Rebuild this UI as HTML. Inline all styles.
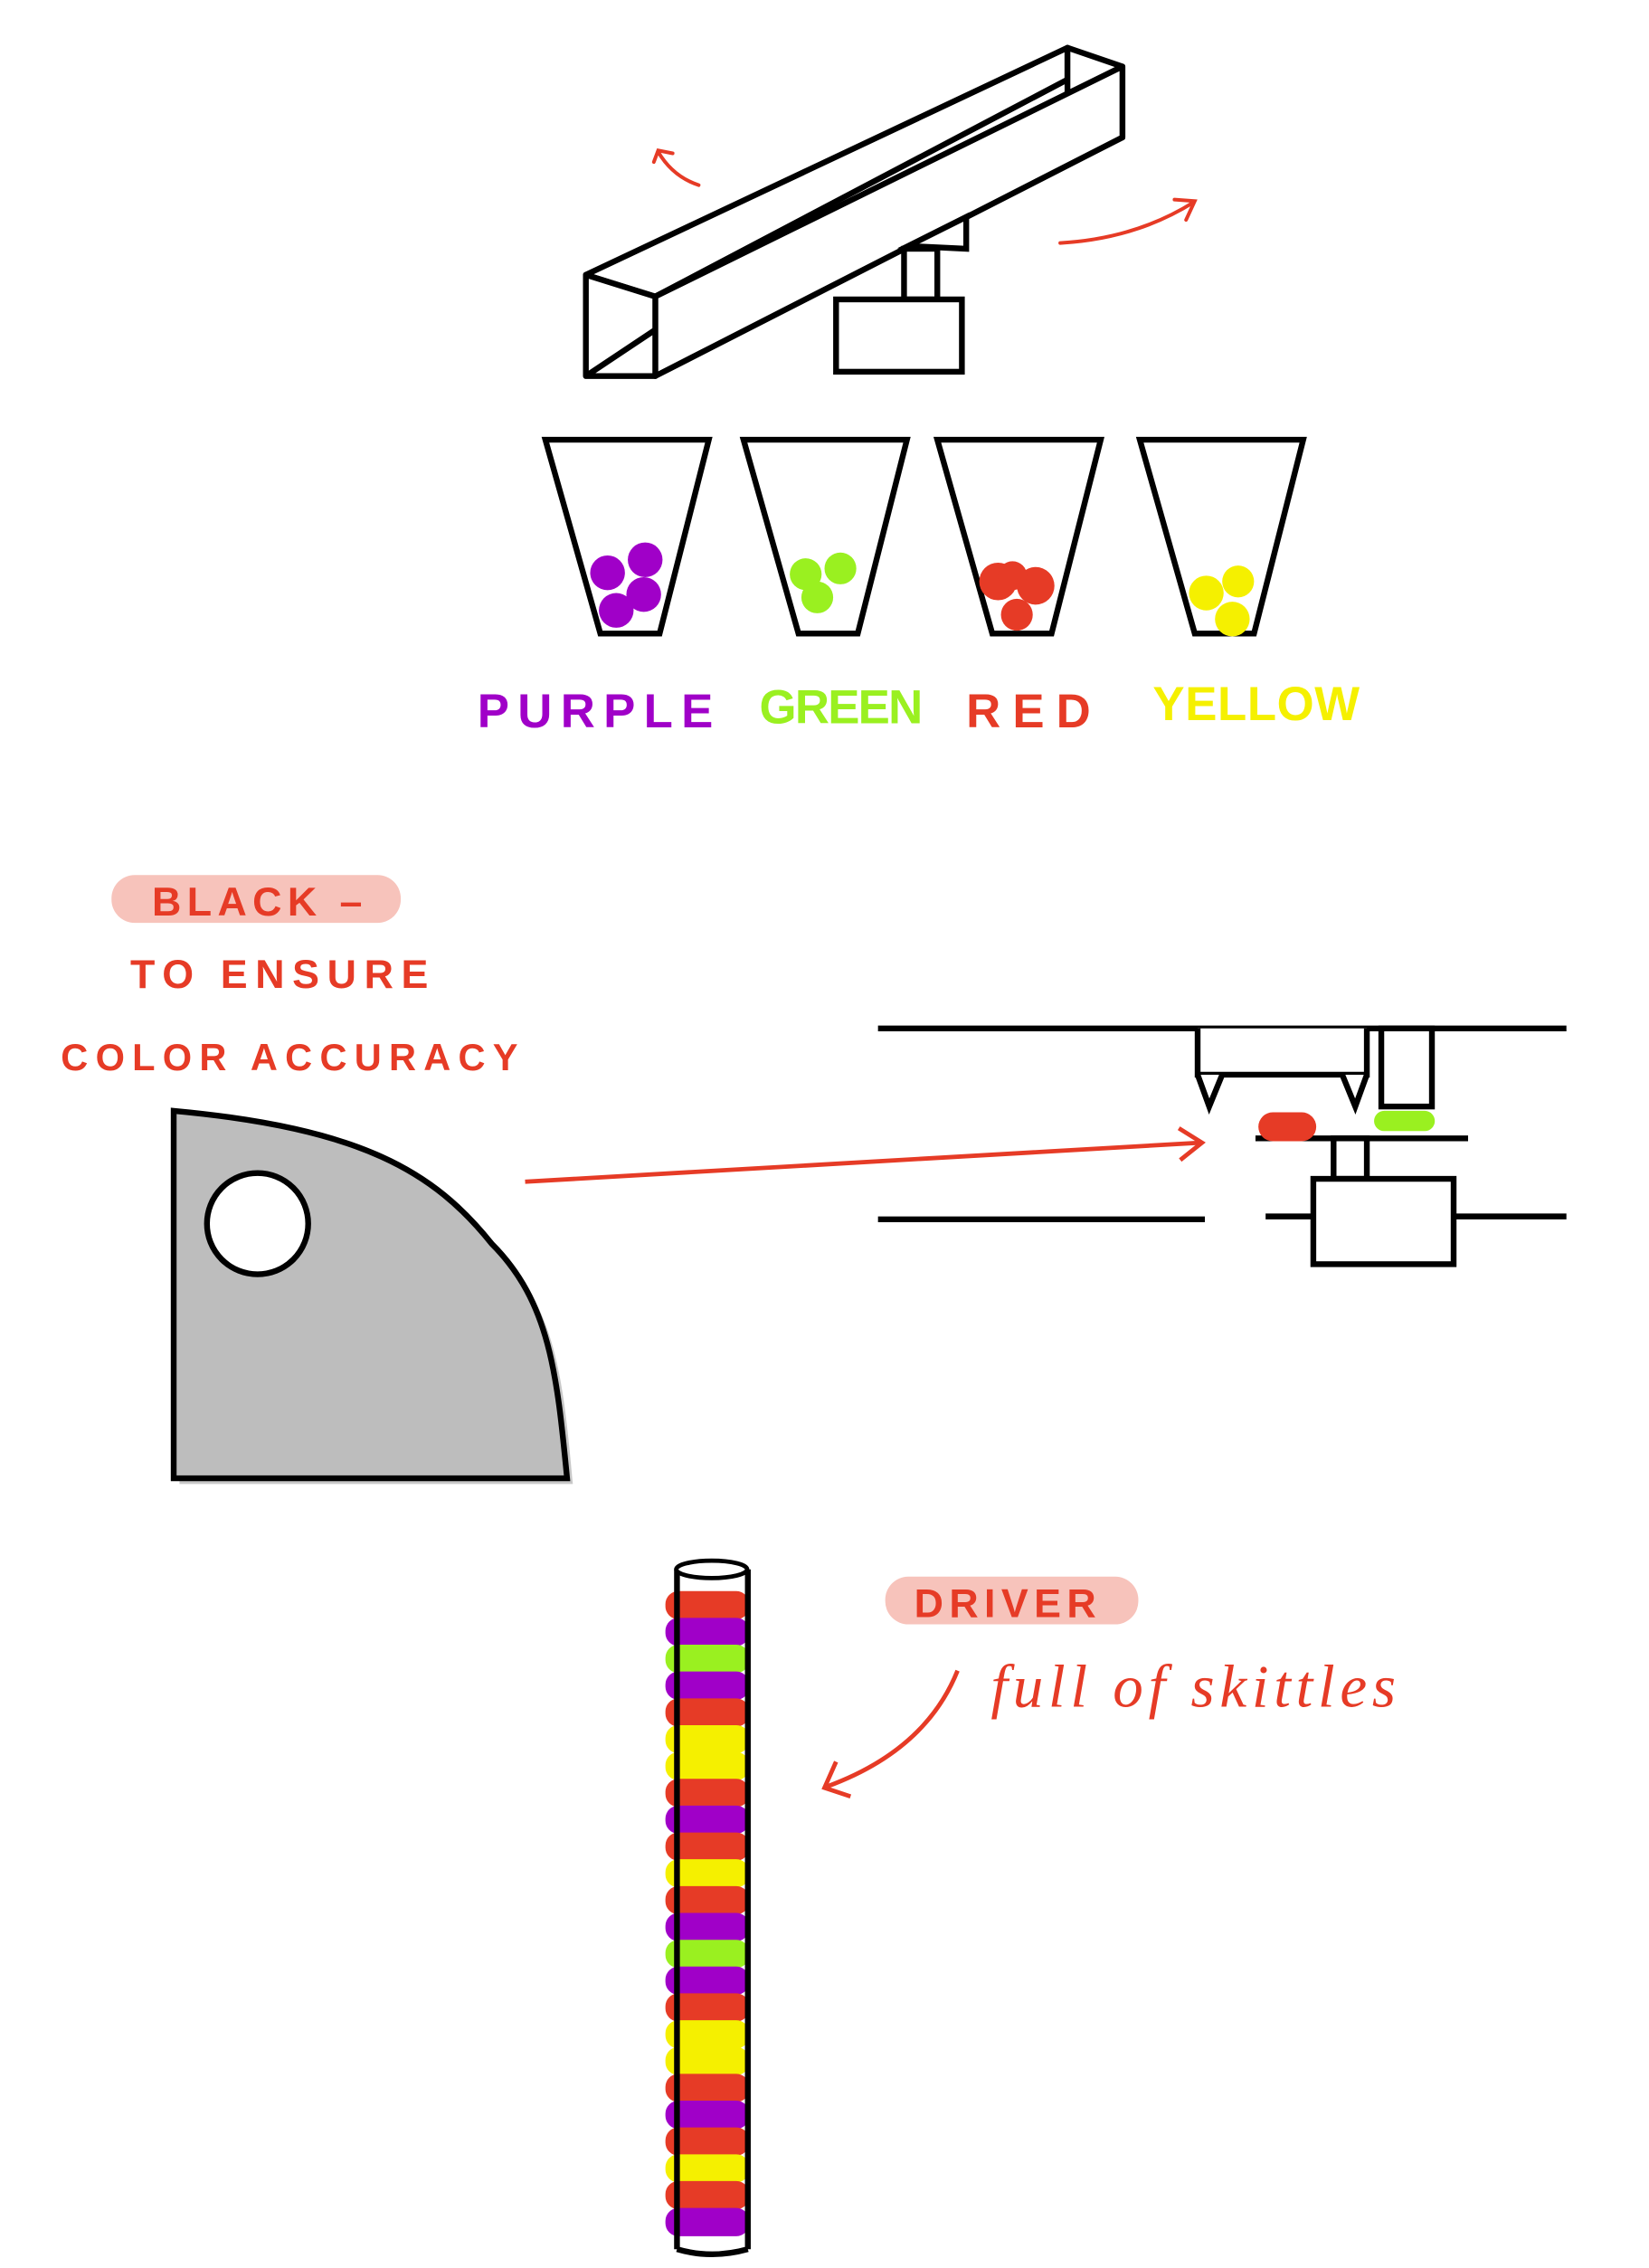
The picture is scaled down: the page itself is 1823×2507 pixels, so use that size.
<!DOCTYPE html>
<html><head><meta charset="utf-8"><style>
html,body{margin:0;padding:0;background:#fff;}
svg{display:block;}
.h{font-family:"Liberation Sans",sans-serif;font-weight:bold;letter-spacing:4px;}
</style></head><body>
<svg width="1823" height="2507" viewBox="0 0 1140 1568" xmlns="http://www.w3.org/2000/svg">
<rect width="1140" height="1568" fill="#fff"/>
<g fill="none" stroke="#000" stroke-width="4" stroke-linejoin="round">
<polygon points="405,190 738,33 738,55 453,205 405,190" fill="#fff"/>
<polygon points="738,33 776,46 776,95 738,114" fill="#fff"/>
<polygon points="453,205 776,46 776,95 453,260" fill="#fff"/>
<polygon points="405,190 453,205 453,260 405,260" fill="#fff"/>
<line x1="405" y1="260" x2="453" y2="228"/>
</g>
<g fill="#fff" stroke="#000" stroke-width="4">
<polygon points="628,170 668,150 668,172"/>
<rect x="625" y="172" width="23" height="35"/>
<rect x="578" y="207" width="87" height="50"/>
</g>
<g fill="none" stroke="#e63b26" stroke-width="2.5" stroke-linecap="round">
<path d="M483,128 Q465,122 455,105 M452,112 L455,104 L465,106"/>
<path d="M733,168 Q785,165 825,140 M812,138 L826,139 L820,152"/>
</g>
<g stroke="#000" stroke-width="4" fill="#fff">
<polygon points="377,304 490,304 456,438 415,438"/>
<polygon points="514,304 627,304 593,438 552,438"/>
<polygon points="648,304 761,304 727,438 686,438"/>
<polygon points="788,304 901,304 867,438 826,438"/>
</g>
<g fill="#a000c8">
<circle cx="420" cy="396" r="12"/><circle cx="446" cy="387" r="12"/><circle cx="445" cy="411" r="12"/><circle cx="426" cy="422" r="12"/>
</g>
<g fill="#9af020">
<circle cx="557" cy="397" r="11"/><circle cx="581" cy="393" r="11"/><circle cx="565" cy="413" r="11"/>
</g>
<g fill="#e63b26">
<circle cx="690" cy="402" r="13"/><circle cx="716" cy="405" r="13"/><circle cx="703" cy="425" r="11"/><circle cx="700" cy="398" r="10"/>
</g>
<g fill="#f5f000">
<circle cx="834" cy="410" r="12"/><circle cx="856" cy="402" r="11"/><circle cx="852" cy="428" r="12"/>
</g>
<g font-size="33" class="h" style="letter-spacing:2px">
<text x="330" y="503" fill="#a000c8" textLength="165">PURPLE</text>
<text x="525" y="500" fill="#9af020" textLength="115">GREEN</text>
<text x="668" y="503" fill="#e63b26" textLength="88">RED</text>
<text x="797" y="498" fill="#f5f000" textLength="145">YELLOW</text>
</g>
<rect x="77" y="605" width="200" height="33" rx="16" fill="#f7c3bb"/>
<g font-size="28" class="h" fill="#e63b26">
<text x="105" y="633">BLACK –</text>
<text x="90" y="683" textLength="210">TO ENSURE</text>
<text x="42" y="740" font-size="26" textLength="320">COLOR ACCURACY</text>
</g>
<path d="M124,772 L124,1026 L396,1026 C389,950 384,905 344,864 C300,814 250,785 124,772Z" fill="#c8c8c8"/>
<path d="M120,768 L120,1022 L392,1022 C385,950 380,900 340,860 C300,810 250,780 120,768Z" fill="#bdbdbd" stroke="#000" stroke-width="4"/>
<circle cx="178" cy="846" r="35" fill="#fff" stroke="#000" stroke-width="4"/>
<g stroke="#e63b26" stroke-width="3" fill="none">
<line x1="363" y1="817" x2="830" y2="790"/><path d="M815,780 L831,790 L816,802"/>
</g>
<g stroke="#000" stroke-width="4" fill="#fff">
<line x1="607" y1="711" x2="1083" y2="711"/>
<path d="M828,711 L828,743 L945,743 L945,711" />
<path d="M828,743 L836,765 L845,743 M928,743 L937,765 L945,743"/>
<rect x="955" y="711" width="35" height="54"/>
<line x1="868" y1="787" x2="1015" y2="787"/>
<rect x="922" y="787" width="23" height="28"/>
<rect x="908" y="815" width="97" height="59"/>
<line x1="607" y1="843" x2="833" y2="843"/>
<line x1="875" y1="841" x2="908" y2="841"/>
<line x1="1005" y1="841" x2="1083" y2="841"/>
</g>
<rect x="870" y="769" width="40" height="20" rx="10" fill="#e63b26"/>
<rect x="950" y="768" width="42" height="14" rx="7" fill="#9af020"/>
<g>
<rect x="460" y="1100" width="58" height="19.5" rx="9" fill="#e63b26"/>
<rect x="460" y="1118.5" width="58" height="19.5" rx="9" fill="#a000c8"/>
<rect x="460" y="1137.1" width="58" height="19.5" rx="9" fill="#9af020"/>
<rect x="460" y="1155.6" width="58" height="19.5" rx="9" fill="#a000c8"/>
<rect x="460" y="1174.2" width="58" height="19.5" rx="9" fill="#e63b26"/>
<rect x="460" y="1192.7" width="58" height="19.5" rx="9" fill="#f5f000"/>
<rect x="460" y="1211.3" width="58" height="19.5" rx="9" fill="#f5f000"/>
<rect x="460" y="1229.8" width="58" height="19.5" rx="9" fill="#e63b26"/>
<rect x="460" y="1248.3" width="58" height="19.5" rx="9" fill="#a000c8"/>
<rect x="460" y="1266.9" width="58" height="19.5" rx="9" fill="#e63b26"/>
<rect x="460" y="1285.4" width="58" height="19.5" rx="9" fill="#f5f000"/>
<rect x="460" y="1304" width="58" height="19.5" rx="9" fill="#e63b26"/>
<rect x="460" y="1322.5" width="58" height="19.5" rx="9" fill="#a000c8"/>
<rect x="460" y="1341.1" width="58" height="19.5" rx="9" fill="#9af020"/>
<rect x="460" y="1359.6" width="58" height="19.5" rx="9" fill="#a000c8"/>
<rect x="460" y="1378.1" width="58" height="19.5" rx="9" fill="#e63b26"/>
<rect x="460" y="1396.7" width="58" height="19.5" rx="9" fill="#f5f000"/>
<rect x="460" y="1415.2" width="58" height="19.5" rx="9" fill="#f5f000"/>
<rect x="460" y="1433.8" width="58" height="19.5" rx="9" fill="#e63b26"/>
<rect x="460" y="1452.3" width="58" height="19.5" rx="9" fill="#a000c8"/>
<rect x="460" y="1470.8" width="58" height="19.5" rx="9" fill="#e63b26"/>
<rect x="460" y="1489.4" width="58" height="19.5" rx="9" fill="#f5f000"/>
<rect x="460" y="1507.9" width="58" height="19.5" rx="9" fill="#e63b26"/>
<rect x="460" y="1526.5" width="58" height="19.5" rx="9" fill="#a000c8"/>
<path d="M468,1085 L468,1555 M517,1085 L517,1555 M468,1555 Q492,1562 517,1555" stroke="#000" stroke-width="4" fill="none"/>
<ellipse cx="492" cy="1085" rx="24.5" ry="6" fill="#fff" stroke="#000" stroke-width="3"/>
</g>
<rect x="612" y="1090" width="175" height="33" rx="16" fill="#f7c3bb"/>
<text x="632" y="1118" font-size="28" class="h" fill="#e63b26">DRIVER</text>
<text x="685" y="1180" font-size="42" fill="#e63b26" font-family="'Liberation Serif',serif" font-style="italic" textLength="280">full of skittles</text>
<g stroke="#e63b26" stroke-width="3" fill="none">
<path d="M662,1155 Q640,1210 572,1235"/><path d="M578,1218 L570,1236 L588,1242"/>
</g>
</svg>
</body></html>
